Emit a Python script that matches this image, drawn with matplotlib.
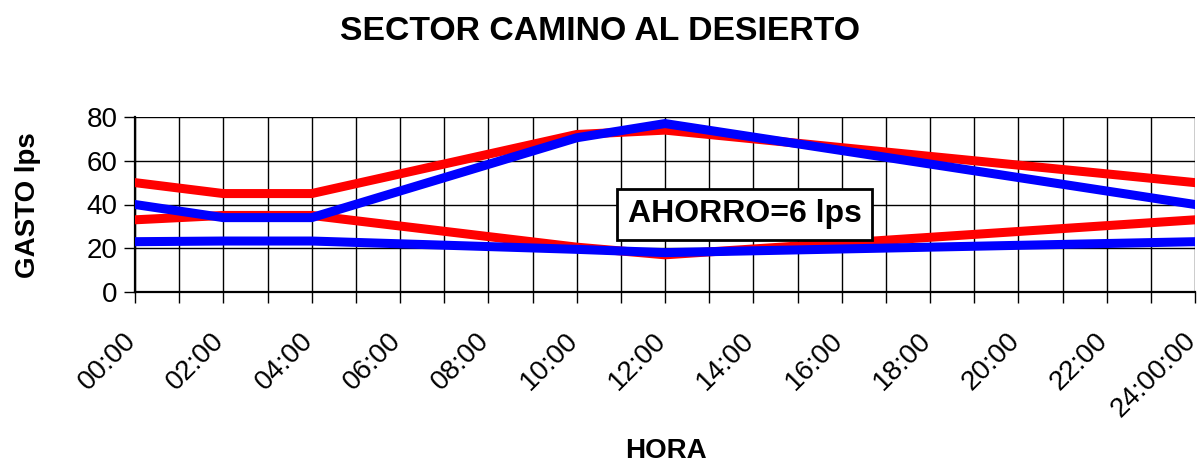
import matplotlib
matplotlib.use("Agg")
import matplotlib.pyplot as plt
from matplotlib.transforms import ScaledTranslation

plt.rcParams['font.family'] = ['Liberation Sans', 'DejaVu Sans']

# Data (hours of the day)
hours = [0, 2, 4, 10, 12, 24]
max_red = [50, 45, 45, 72, 74, 50]
min_red = [33, 35, 35, 20.5, 17, 33]
max_blue = [40, 34, 34, 70.5, 77, 40]
min_blue = [23, 23.3, 23.3, 19.5, 18, 23]

tick_hours = list(range(0, 25, 2))
tick_labels = ["00:00", "02:00", "04:00", "06:00", "08:00", "10:00", "12:00",
               "14:00", "16:00", "18:00", "20:00", "22:00", "24:00:00"]
y_ticks = [0, 20, 40, 60, 80]

title = "SECTOR CAMINO AL DESIERTO"
xlabel = "HORA"
ylabel = "GASTO lps"
note = "AHORRO=6 lps"

W, H = 1199, 463
fig = plt.figure(figsize=(W / 100, H / 100), dpi=100)
ax = fig.add_axes([135 / W, 1 - 292 / H, (1195 - 135) / W, (292 - 117) / H])

lw = 6.5
ax.plot(hours, max_red, color='#ff0000', lw=lw, solid_joinstyle='miter', zorder=3)
ax.plot(hours, min_red, color='#ff0000', lw=lw, solid_joinstyle='miter', zorder=3)
ax.plot(hours, max_blue, color='#0000ff', lw=lw, solid_joinstyle='miter', zorder=4)
ax.plot(hours, min_blue, color='#0000ff', lw=lw, solid_joinstyle='miter', zorder=4)

ax.set_xlim(0, 24)
ax.set_ylim(0, 80)
ax.set_xticks(range(0, 25))
ax.set_xticklabels([])
lab_tr = ax.get_xaxis_transform() + ScaledTranslation(2 / 100, -50 / 100, fig.dpi_scale_trans)
for h, lab in zip(tick_hours, tick_labels):
    ax.text(h, 0, lab, transform=lab_tr, rotation=45, ha='right', va='baseline',
            rotation_mode='anchor', fontsize=20, clip_on=False)
ax.set_yticks(y_ticks)
ax.set_yticklabels([str(v) for v in y_ticks], fontsize=20)
ax.tick_params(axis='x', direction='out', length=8, width=1)
ax.tick_params(axis='y', direction='out', length=8, width=1, pad=4.5)
ax.grid(True, color='black', lw=1, zorder=1)
ax.set_axisbelow(True)
for s in ['top', 'right']:
    ax.spines[s].set_visible(False)
for s in ['left', 'bottom']:
    ax.spines[s].set_linewidth(1.6)

ax.text(0.575, 0.443, note, transform=ax.transAxes, ha='center', va='center',
        fontsize=23, fontweight='bold', zorder=6,
        bbox=dict(boxstyle='square,pad=0.34', facecolor='white', edgecolor='black', lw=2))

fig.text(0.5, 1 - 40 / H, title, ha='center', va='baseline', fontsize=24.3, fontweight='bold')
fig.text(666 / W, 1 - 458 / H, xlabel, ha='center', va='baseline', fontsize=20, fontweight='bold')
fig.text(28 / W, 1 - 205 / H, ylabel, ha='center', va='center', rotation=90, fontsize=20, fontweight='bold')

fig.savefig("out.png", dpi=100)
